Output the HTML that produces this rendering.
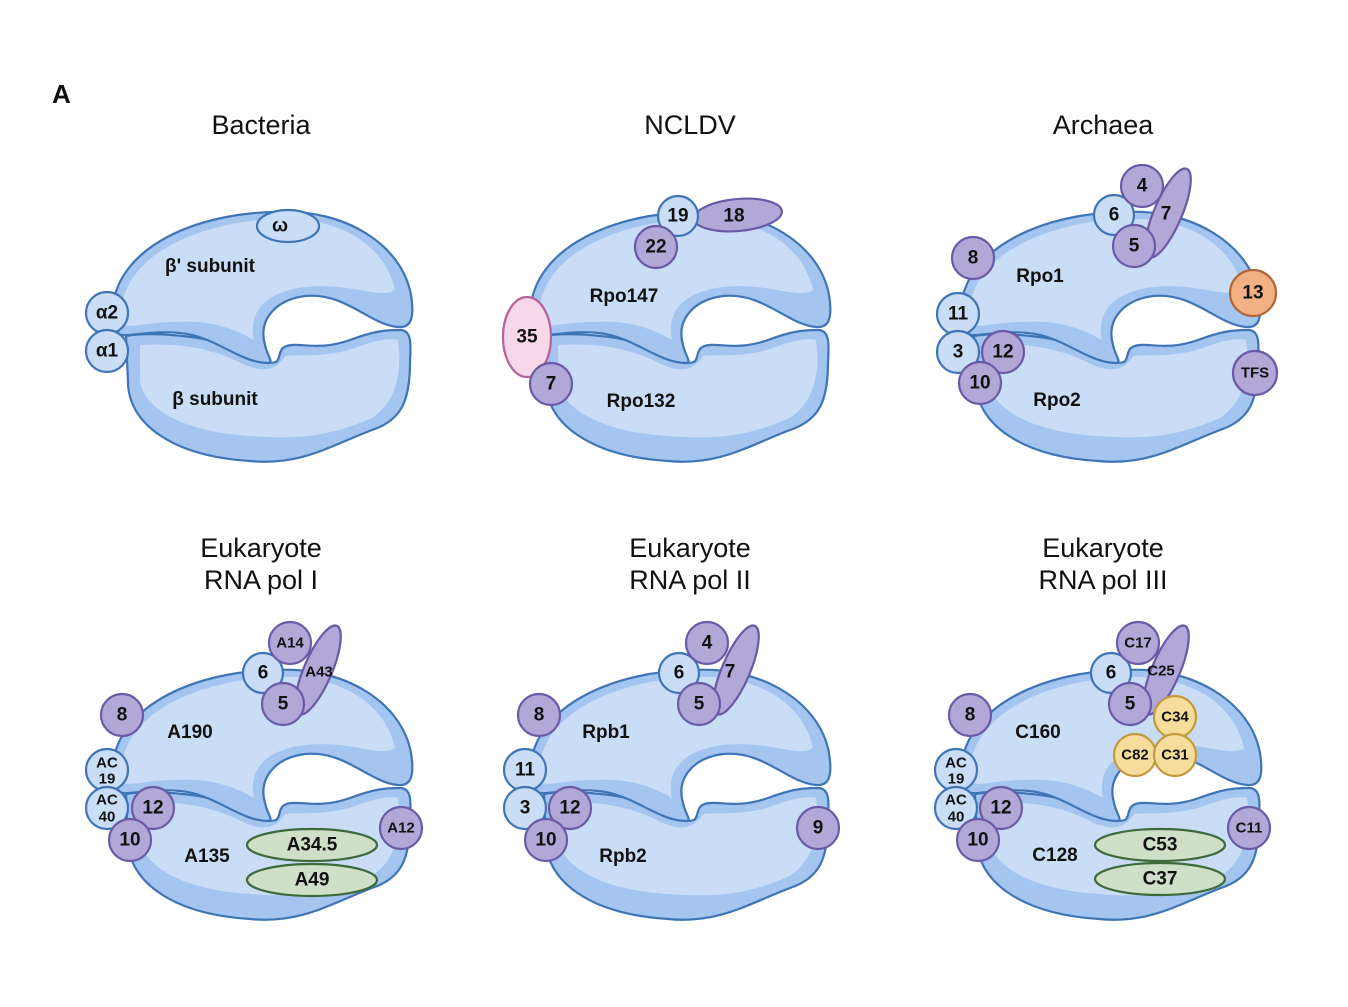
<!DOCTYPE html>
<html><head><style>
html,body{margin:0;padding:0;background:#fff;}
svg{display:block;}
text{font-family:"Liberation Sans",sans-serif;}
.t{font-size:27px;fill:#111;text-anchor:middle;}
.l{font-size:19px;font-weight:bold;fill:#111;text-anchor:middle;}
.n{font-size:19px;font-weight:bold;fill:#111;text-anchor:middle;dominant-baseline:central;}
.s{font-size:15px;font-weight:bold;fill:#111;text-anchor:middle;dominant-baseline:central;}
.lb{fill:#c9ddf6;stroke:#3f74b5;stroke-width:2.2;}
.pu{fill:#b2a8d8;stroke:#6a5aa5;stroke-width:2.2;}
.gr{fill:#cfe0c8;stroke:#3d6a3a;stroke-width:2.2;}
.ye{fill:#f7dd9b;stroke:#c29a3c;stroke-width:2.2;}
</style></head><body>
<svg width="1348" height="1007" viewBox="0 0 1348 1007" xmlns="http://www.w3.org/2000/svg">
<defs>
<g id="body">
 <path d="M126,336 C150,332 200,335 225,345 C250,358 262,366 276,362 C282,358 276,346 292,345 C305,344 322,350 350,340 C372,332 382,330 400,330 C412,330 411,345 410,362 C410,400 402,420 372,430 C330,446 300,466 250,461 C170,456 128,422 128,382 Z" fill="#a3c5f0" stroke="#3f74b5" stroke-width="2.2"/>
 <path d="M140,345 C190,342 220,352 245,365 C262,372 275,372 285,356 C300,354 325,358 355,348 C375,340 390,338 398,340 C402,370 398,400 372,418 C330,436 300,440 250,436 C185,432 145,410 140,382 Z" fill="#c9ddf6"/>
 <path d="M112,312 C116,245 200,213 275,212 C345,208 402,245 411,295 C415,320 410,328 398,327 C370,325 345,292 305,296 C275,300 258,320 265,345 C268,358 274,362 268,363 C240,363 215,336 180,333 C150,330 125,338 118,334 Z" fill="#a3c5f0" stroke="#3f74b5" stroke-width="2.2"/>
 <path d="M122,304 C132,250 205,222 275,219 C340,216 385,245 395,290 C380,300 350,282 305,287 C265,292 248,312 254,340 C230,326 205,320 175,322 C150,322 130,328 124,325 Z" fill="#c9ddf6"/>
</g>
</defs>

<text x="52" y="103" style="font-size:26px;font-weight:bold;fill:#111">A</text>
<text class="t" x="261" y="134">Bacteria</text>
<text class="t" x="690" y="134">NCLDV</text>
<text class="t" x="1103" y="134">Archaea</text>
<text class="t" x="261" y="557">Eukaryote</text><text class="t" x="261" y="589">RNA pol I</text>
<text class="t" x="690" y="557">Eukaryote</text><text class="t" x="690" y="589">RNA pol II</text>
<text class="t" x="1103" y="557">Eukaryote</text><text class="t" x="1103" y="589">RNA pol III</text>

<!-- Bacteria -->
<use href="#body"/>
<ellipse class="lb" cx="288" cy="226" rx="31" ry="16"/><text class="n" x="280" y="226">ω</text>
<circle class="lb" cx="107" cy="313" r="21"/><text class="n" x="107" y="313">α2</text>
<circle class="lb" cx="107" cy="351" r="21"/><text class="n" x="107" y="351">α1</text>
<text class="l" x="210" y="272">β' subunit</text>
<text class="l" x="215" y="405">β subunit</text>

<!-- NCLDV -->
<use href="#body" transform="translate(418,0)"/>
<ellipse class="pu" cx="738" cy="215" rx="44" ry="16" transform="rotate(-5 738 215)"/><text class="n" x="734" y="216">18</text>
<circle class="lb" cx="678" cy="216" r="20"/><text class="n" x="678" y="216">19</text>
<circle class="pu" cx="656" cy="247" r="21"/><text class="n" x="656" y="247">22</text>
<ellipse cx="527" cy="337" rx="24" ry="40" fill="#f6d8e8" stroke="#b8609a" stroke-width="2.2"/><text class="n" x="527" y="337">35</text>
<circle class="pu" cx="551" cy="384" r="21"/><text class="n" x="551" y="384">7</text>
<text class="l" x="624" y="302">Rpo147</text>
<text class="l" x="641" y="407">Rpo132</text>

<!-- Archaea -->
<use href="#body" transform="translate(848,0)"/>
<ellipse class="pu" cx="1168" cy="213" rx="14" ry="48" transform="rotate(23 1168 213)"/><text class="n" x="1166" y="214">7</text>
<circle class="lb" cx="1114" cy="215" r="20"/><text class="n" x="1114" y="215">6</text>
<circle class="pu" cx="1142" cy="186" r="21"/><text class="n" x="1142" y="186">4</text>
<circle class="pu" cx="1134" cy="246" r="21"/><text class="n" x="1134" y="246">5</text>
<circle class="pu" cx="973" cy="258" r="21"/><text class="n" x="973" y="258">8</text>
<circle cx="1253" cy="293" r="23" fill="#f3b084" stroke="#b06638" stroke-width="2.2"/><text class="n" x="1253" y="293">13</text>
<circle class="lb" cx="958" cy="314" r="21"/><text class="n" x="958" y="314">11</text>
<circle class="lb" cx="958" cy="352" r="21"/><text class="n" x="958" y="352">3</text>
<circle class="pu" cx="1003" cy="352" r="21"/><text class="n" x="1003" y="352">12</text>
<circle class="pu" cx="980" cy="383" r="21"/><text class="n" x="980" y="383">10</text>
<circle class="pu" cx="1255" cy="373" r="22"/><text class="s" x="1255" y="373">TFS</text>
<text class="l" x="1040" y="282">Rpo1</text>
<text class="l" x="1057" y="406">Rpo2</text>

<!-- Pol I -->
<use href="#body" transform="translate(0,458)"/>
<ellipse class="pu" cx="318" cy="670" rx="14" ry="48" transform="rotate(23 318 670)"/><text class="s" x="319" y="672">A43</text>
<circle class="lb" cx="263" cy="673" r="20"/><text class="n" x="263" y="673">6</text>
<circle class="pu" cx="290" cy="643" r="21"/><text class="s" x="290" y="643">A14</text>
<circle class="pu" cx="283" cy="704" r="21"/><text class="n" x="283" y="704">5</text>
<circle class="pu" cx="122" cy="715" r="21"/><text class="n" x="122" y="715">8</text>
<circle class="lb" cx="107" cy="770" r="21"/><text class="s" x="107" y="763">AC</text><text class="s" x="107" y="779">19</text>
<circle class="lb" cx="107" cy="808" r="21"/><text class="s" x="107" y="800">AC</text><text class="s" x="107" y="817">40</text>
<circle class="pu" cx="153" cy="808" r="21"/><text class="n" x="153" y="808">12</text>
<circle class="pu" cx="130" cy="840" r="21"/><text class="n" x="130" y="840">10</text>
<circle class="pu" cx="401" cy="828" r="21"/><text class="s" x="401" y="828">A12</text>
<ellipse class="gr" cx="312" cy="845" rx="65" ry="16"/><text class="n" x="312" y="845">A34.5</text>
<ellipse class="gr" cx="312" cy="880" rx="65" ry="16"/><text class="n" x="312" y="880">A49</text>
<text class="l" x="190" y="738">A190</text>
<text class="l" x="207" y="862">A135</text>

<!-- Pol II -->
<use href="#body" transform="translate(418,458)"/>
<ellipse class="pu" cx="736" cy="670" rx="14" ry="48" transform="rotate(23 736 670)"/><text class="n" x="730" y="672">7</text>
<circle class="lb" cx="679" cy="673" r="20"/><text class="n" x="679" y="673">6</text>
<circle class="pu" cx="707" cy="643" r="21"/><text class="n" x="707" y="643">4</text>
<circle class="pu" cx="699" cy="704" r="21"/><text class="n" x="699" y="704">5</text>
<circle class="pu" cx="539" cy="715" r="21"/><text class="n" x="539" y="715">8</text>
<circle class="lb" cx="525" cy="770" r="21"/><text class="n" x="525" y="770">11</text>
<circle class="lb" cx="525" cy="808" r="21"/><text class="n" x="525" y="808">3</text>
<circle class="pu" cx="570" cy="808" r="21"/><text class="n" x="570" y="808">12</text>
<circle class="pu" cx="546" cy="840" r="21"/><text class="n" x="546" y="840">10</text>
<circle class="pu" cx="818" cy="828" r="21"/><text class="n" x="818" y="828">9</text>
<text class="l" x="606" y="738">Rpb1</text>
<text class="l" x="623" y="862">Rpb2</text>

<!-- Pol III -->
<use href="#body" transform="translate(849,458)"/>
<ellipse class="pu" cx="1166" cy="670" rx="14" ry="48" transform="rotate(23 1166 670)"/><text class="s" x="1161" y="671">C25</text>
<circle class="lb" cx="1111" cy="673" r="20"/><text class="n" x="1111" y="673">6</text>
<circle class="pu" cx="1138" cy="643" r="21"/><text class="s" x="1138" y="643">C17</text>
<circle class="pu" cx="1130" cy="704" r="21"/><text class="n" x="1130" y="704">5</text>
<circle class="ye" cx="1175" cy="717" r="21"/><text class="s" x="1175" y="717">C34</text>
<circle class="ye" cx="1135" cy="755" r="21"/><text class="s" x="1135" y="755">C82</text>
<circle class="ye" cx="1175" cy="755" r="21"/><text class="s" x="1175" y="755">C31</text>
<circle class="pu" cx="970" cy="715" r="21"/><text class="n" x="970" y="715">8</text>
<circle class="lb" cx="956" cy="770" r="21"/><text class="s" x="956" y="763">AC</text><text class="s" x="956" y="779">19</text>
<circle class="lb" cx="956" cy="808" r="21"/><text class="s" x="956" y="800">AC</text><text class="s" x="956" y="817">40</text>
<circle class="pu" cx="1001" cy="808" r="21"/><text class="n" x="1001" y="808">12</text>
<circle class="pu" cx="978" cy="840" r="21"/><text class="n" x="978" y="840">10</text>
<circle class="pu" cx="1249" cy="828" r="21"/><text class="s" x="1249" y="828">C11</text>
<ellipse class="gr" cx="1160" cy="845" rx="65" ry="16"/><text class="n" x="1160" y="845">C53</text>
<ellipse class="gr" cx="1160" cy="879" rx="65" ry="16"/><text class="n" x="1160" y="879">C37</text>
<text class="l" x="1038" y="738">C160</text>
<text class="l" x="1055" y="861">C128</text>
</svg>
</body></html>
